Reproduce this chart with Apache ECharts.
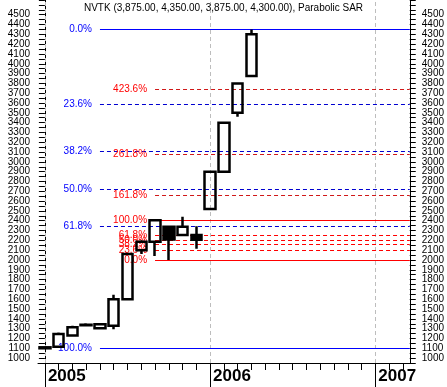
<!DOCTYPE html>
<html><head><meta charset="utf-8">
<script src="https://cdn.jsdelivr.net/npm/echarts@6/dist/echarts.min.js"></script>
<style>html,body{margin:0;padding:0;background:#fff}#c{width:447px;height:387px}</style>
</head><body><div id="c"></div>
<script>
// Month categories on the x axis
const months = ['2005-01','2005-02','2005-03','2005-04','2005-05','2005-06','2005-07','2005-08','2005-09','2005-10','2005-11','2005-12',
                '2006-01','2006-02','2006-03','2006-04','2006-05','2006-06','2006-07','2006-08','2006-09','2006-10','2006-11','2006-12',
                '2007-01','2007-02','2007-03'];
const yearStarts = ['2005-01','2006-01','2007-01'];
const yearNames  = ['2005','2006','2007'];

// Monthly candles (NVTK)
const candleDates = ['2005-01','2005-02','2005-03','2005-04','2005-05','2005-06','2005-07','2005-08','2005-09','2005-10','2005-11','2005-12','2006-01','2006-02','2006-03','2006-04'];
const openV  = [1100,1115,1230,1335,1305,1330,1600,2100,2185,2340,2255,2255,2520,2900,3500,3875];
const closeV = [1110,1245,1315,1340,1345,1600,2060,2185,2405,2210,2340,2205,2900,3400,3800,4300];
const highV  = [1110,1260,1330,1355,1350,1645,2065,2200,2410,2345,2440,2345,2900,3400,3800,4350];
const lowV   = [1100,1115,1225,1335,1300,1295,1600,2060,2040,2000,2250,2115,2520,2900,3460,3875];

// Fibonacci retracement (blue) from 1100 low to 4350 high
const blueFibLevels = [4350, 3583, 3109, 2725, 2342, 1100];
const blueFibLabels = ['0.0%','23.6%','38.2%','50.0%','61.8%','100.0%'];
const blueFibStart = '2005-05';
// Fibonacci levels (red) on the 2000–2410 consolidation
const redFibLevels = [2410, 2253, 2205, 2157, 2097, 2000, 2663, 3073, 3736];
const redFibLabels = ['100.0%','61.8%','50.0%','38.2%','23.6%','0.0%','161.8%','261.8%','423.6%'];
const redFibStart = '2005-09';

const titleText = 'NVTK (3,875.00, 4,350.00, 3,875.00, 4,300.00), Parabolic SAR';

const FONT = '"Liberation Sans", Arial, sans-serif';
const xMin = -0.5, xMax = months.length - 0.5;

function fibData(levels, labels, start, solidColor, dashColor, extColor, textColor) {
  const xs = months.indexOf(start);
  return levels.map((lv, i) => {
    const solid = labels[i] === '0.0%' || labels[i] === '100.0%';
    const ext = parseFloat(labels[i]) > 100;
    const c = solid ? solidColor : (ext ? extColor : dashColor);
    return [
      { coord: [xs, lv], lineStyle: { color: c, type: solid ? 'solid' : [4, 3], width: 1 },
        label: { formatter: labels[i], color: textColor } },
      { coord: [xMax, lv] }
    ];
  });
}

const chart = echarts.init(document.getElementById('c'), null, { renderer: 'canvas' });
const yCommon = {
  type: 'value', min: 950, max: 4650, interval: 50,
  axisLine: { show: true, lineStyle: { color: '#000', width: 1 } },
  axisTick: { show: true, length: 6, lineStyle: { color: '#000' } },
  splitLine: { show: false },
  axisLabel: { fontSize: 10, color: '#000', fontFamily: FONT,
    formatter: v => (v % 100 === 0 && v <= 4500) ? String(v) : '' }
};
chart.setOption({
  animation: false,
  textStyle: { fontFamily: FONT },
  title: { text: titleText, left: 'center', top: 3, padding: 0,
    textStyle: { fontSize: 10, fontWeight: 'normal', color: '#000', fontFamily: FONT } },
  grid: { left: 38, right: 37, top: 0, bottom: 24, containLabel: false },
  xAxis: [
    { type: 'category', data: months, boundaryGap: true, position: 'bottom',
      axisLine: { show: true, lineStyle: { color: '#000', width: 1 } },
      axisTick: { show: true, alignWithLabel: true, interval: 0, length: 7, lineStyle: { color: '#000' } },
      axisLabel: { show: false }, splitLine: { show: false } },
    { type: 'category', data: months, boundaryGap: true, position: 'bottom',
      axisLine: { show: false },
      axisTick: { show: true, alignWithLabel: true, length: 24, lineStyle: { color: '#000' },
        interval: (i, v) => yearStarts.indexOf(v) >= 0 },
      axisLabel: { show: true, interval: (i, v) => yearStarts.indexOf(v) >= 0,
        formatter: v => yearNames[yearStarts.indexOf(v)] || '',
        fontSize: 17, fontWeight: 'bold', color: '#000', fontFamily: FONT,
        align: 'left', margin: 5, padding: [0, 0, 0, 3] },
      splitLine: { show: false } },
    { type: 'value', min: xMin, max: xMax, show: false }
  ],
  yAxis: [
    Object.assign({}, yCommon, { position: 'left', axisLabel: Object.assign({}, yCommon.axisLabel, { margin: 8 }) }),
    Object.assign({}, yCommon, { position: 'right', axisLabel: Object.assign({}, yCommon.axisLabel, { margin: 12 }) })
  ],
  series: [
    { type: 'line', xAxisIndex: 2, yAxisIndex: 0, data: [], z: 1, silent: true,
      markLine: { silent: true, symbol: ['none', 'none'], label: { show: false },
        lineStyle: { color: '#bdbdbd', type: [4, 3], width: 1 },
        data: yearStarts.map(y => ({ xAxis: months.indexOf(y) })) } },
    { type: 'line', xAxisIndex: 2, yAxisIndex: 0, data: [], z: 2, silent: true,
      markLine: { silent: true, symbol: ['none', 'none'],
        label: { show: true, position: 'start', distance: 8, fontSize: 10, fontFamily: FONT },
        data: fibData(blueFibLevels, blueFibLabels, blueFibStart, '#0000ff', '#0000d0', '#0000d0', '#0000ff') } },
    { type: 'line', xAxisIndex: 2, yAxisIndex: 0, data: [], z: 2, silent: true,
      markLine: { silent: true, symbol: ['none', 'none'],
        label: { show: true, position: 'start', distance: 8, fontSize: 10, fontFamily: FONT },
        data: fibData(redFibLevels, redFibLabels, redFibStart, '#ff0000', '#ff0000', '#d01818', '#ff0000') } },
    { type: 'candlestick', xAxisIndex: 2, yAxisIndex: 0, z: 5, barWidth: 11,
      itemStyle: { color: 'rgba(0,0,0,0)', color0: '#000', borderColor: '#000', borderColor0: '#000', borderWidth: 2.5 },
      data: candleDates.map((d, i) => [months.indexOf(d), openV[i], closeV[i], lowV[i], highV[i]]) }
  ]
});
</script></body></html>
